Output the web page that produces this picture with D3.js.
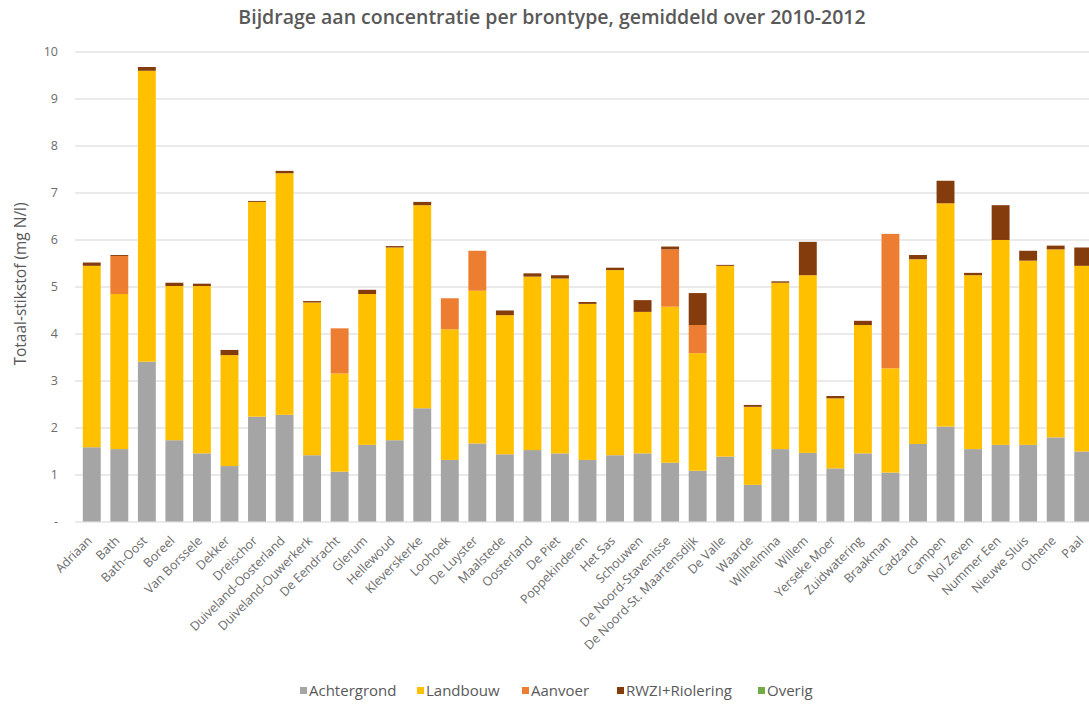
<!DOCTYPE html>
<html>
<head>
<meta charset="utf-8">
<script src="https://cdn.jsdelivr.net/npm/d3@7"></script>
<style>
  body { margin: 0; background: #fff; }
  text { font-family: "Open Sans", Lato, sans-serif; fill: #595959; }
</style>
</head>
<body>
<div id="chart"></div>
<script>
// gebieden
var gebieden = ["Adriaan", "Bath", "Bath-Oost", "Boreel", "Van Borssele", "Dekker", "Dreischor",
  "Duiveland-Oosterland", "Duiveland-Ouwerkerk", "De Eendracht", "Glerum", "Hellewoud",
  "Kleverskerke", "Loohoek", "De Luyster", "Maalstede", "Oosterland", "De Piet", "Poppekinderen",
  "Het Sas", "Schouwen", "De Noord-Stavenisse", "De Noord-St. Maartensdijk", "De Valle", "Waarde",
  "Wilhelmina", "Willem", "Yerseke Moer", "Zuidwatering", "Braakman", "Cadzand", "Campen",
  "Nol Zeven", "Nummer Een", "Nieuwe Sluis", "Othene", "Paal"];

// bijdrage per brontype (mg N/l)
var achtergrond = [1.58, 1.54, 3.40, 1.73, 1.45, 1.18, 2.23, 2.27, 1.41, 1.06, 1.63, 1.73,
  2.41, 1.31, 1.66, 1.43, 1.52, 1.45, 1.31, 1.41, 1.45, 1.25, 1.08, 1.38, 0.78,
  1.54, 1.46, 1.13, 1.45, 1.04, 1.65, 2.02, 1.54, 1.63, 1.63, 1.79, 1.49];
var landbouw = [3.86, 3.30, 6.19, 3.28, 3.56, 2.36, 4.57, 5.14, 3.25, 2.09, 3.21, 4.10,
  4.32, 2.78, 3.25, 2.96, 3.69, 3.72, 3.32, 3.94, 3.01, 3.32, 2.50, 4.06, 1.66,
  3.54, 3.78, 1.49, 2.73, 2.22, 3.93, 4.75, 3.70, 4.36, 3.92, 4.00, 3.95];
var aanvoer = [0, 0.81, 0, 0, 0, 0, 0, 0, 0, 0.96, 0, 0,
  0, 0.66, 0.85, 0, 0, 0, 0, 0, 0, 1.22, 0.60, 0, 0,
  0, 0, 0, 0, 2.86, 0, 0, 0, 0, 0, 0, 0];
var rwzi = [0.07, 0.02, 0.08, 0.07, 0.05, 0.11, 0.02, 0.05, 0.03, 0, 0.09, 0.03,
  0.07, 0, 0, 0.10, 0.07, 0.07, 0.04, 0.05, 0.25, 0.06, 0.68, 0.02, 0.04,
  0.03, 0.71, 0.05, 0.09, 0, 0.09, 0.48, 0.05, 0.74, 0.21, 0.08, 0.39];
var overig = [0, 0, 0, 0, 0, 0, 0, 0, 0, 0, 0, 0,
  0, 0, 0, 0, 0, 0, 0, 0, 0, 0, 0, 0, 0,
  0, 0, 0, 0, 0, 0, 0, 0, 0, 0, 0, 0];

var reeksen = ["Achtergrond", "Landbouw", "Aanvoer", "RWZI+Riolering", "Overig"];
var kleuren = ["#A5A5A5", "#FFC000", "#ED7D31", "#843C0C", "#70AD47"];
var yTicks = [0, 1, 2, 3, 4, 5, 6, 7, 8, 9, 10];

var rows = gebieden.map(function(g, i) {
  return {
    gebied: g,
    "Achtergrond": achtergrond[i],
    "Landbouw": landbouw[i],
    "Aanvoer": aanvoer[i],
    "RWZI+Riolering": rwzi[i],
    "Overig": overig[i]
  };
});

var width = 1089, height = 707;

var svg = d3.select("#chart")
  .append("svg")
  .attr("width", width)
  .attr("height", height);

var x = d3.scaleBand()
  .domain(gebieden)
  .range([78, 1097])
  .paddingInner(0.35)
  .paddingOuter(0.175);

var y = d3.scaleLinear()
  .domain([0, 10])
  .range([521.5, 51.5]);

var kleur = d3.scaleOrdinal().domain(reeksen).range(kleuren);

// titel
svg.append("text")
  .attr("x", 552)
  .attr("y", 24)
  .attr("text-anchor", "middle")
  .attr("font-size", "19.5px")
  .attr("font-weight", "600")
  .text("Bijdrage aan concentratie per brontype, gemiddeld over 2010-2012");

// rasterlijnen
svg.append("g")
  .selectAll("line")
  .data(yTicks)
  .enter().append("line")
  .attr("x1", 75)
  .attr("x2", width)
  .attr("y1", function(d) { return y(d) + 0.5; })
  .attr("y2", function(d) { return y(d) + 0.5; })
  .attr("stroke", "#E3E3E3")
  .attr("stroke-width", 1.5);

// y-as
var yAxis = svg.append("g")
  .attr("transform", "translate(58,0)")
  .call(d3.axisLeft(y).tickValues(yTicks).tickSize(0).tickPadding(0)
    .tickFormat(function(d) { return d === 0 ? "-" : d; }));
yAxis.select(".domain").remove();
yAxis.selectAll("text")
  .attr("font-size", "12.5px")
  .style("fill", "#6b6b6b")
  .style("font-family", "'Open Sans', sans-serif");

svg.append("text")
  .attr("transform", "translate(26,284)rotate(-90)")
  .attr("text-anchor", "middle")
  .attr("font-size", "15.5px")
  .text("Totaal-stikstof (mg N/l)");

// gestapelde staven
var stack = d3.stack().keys(reeksen);
var series = stack(rows);

svg.append("g")
  .selectAll("g")
  .data(series)
  .enter().append("g")
  .attr("fill", function(d) { return kleur(d.key); })
  .selectAll("rect")
  .data(function(d) { return d; })
  .enter().append("rect")
  .attr("x", function(d) { return x(d.data.gebied); })
  .attr("y", function(d) { return y(d[1]); })
  .attr("height", function(d) { return y(d[0]) - y(d[1]); })
  .attr("width", x.bandwidth());

// x-as labels
var xAxis = svg.append("g")
  .attr("transform", "translate(0,521.5)")
  .call(d3.axisBottom(x).tickSize(0).tickPadding(0));
xAxis.select(".domain").remove();
xAxis.selectAll("text")
  .attr("text-anchor", "end")
  .attr("dy", 0)
  .attr("y", 0)
  .attr("transform", "translate(1,20)rotate(-45)")
  .attr("font-size", "12.5px")
  .style("fill", "#6b6b6b")
  .style("font-family", "'Open Sans', sans-serif");

// legenda
var legendX = [300, 417, 522, 617, 758];
var legend = svg.append("g")
  .selectAll("g")
  .data(reeksen)
  .enter().append("g")
  .attr("transform", function(d, i) { return "translate(" + legendX[i] + ",691)"; });

legend.append("rect")
  .attr("x", 0)
  .attr("y", -4)
  .attr("width", 7)
  .attr("height", 7)
  .attr("fill", function(d) { return kleur(d); });

legend.append("text")
  .attr("x", 9)
  .attr("y", 5)
  .attr("font-size", "15px")
  .text(function(d) { return d; });
</script>
</body>
</html>
